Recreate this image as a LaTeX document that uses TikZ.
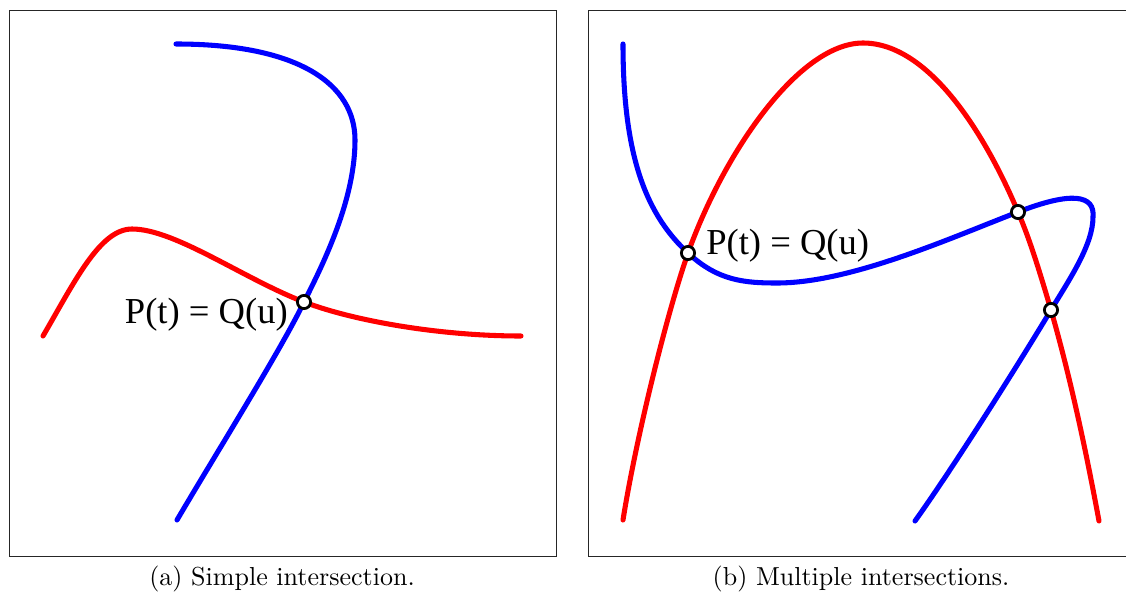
\documentclass[tikz,border=0pt]{standalone}
\usepackage{fontspec}
\newfontfamily\labelfont{Liberation Serif}
\newfontfamily\capfont{lmroman10-regular.otf}
\usepackage{tikz}
\usetikzlibrary{positioning}

\begin{document}
\begin{tikzpicture}[x=0.025cm, y=-0.025cm,
    curve/.style={line width=3.6pt, line cap=round},
    frame/.style={line width=0.7pt, black!85},
    hit/.style={circle, draw=black, fill=white, line width=2pt,
      inner sep=0pt, minimum size=0.33cm},
    eqlabel/.style={font=\labelfont\fontsize{26}{30}\selectfont, inner sep=0pt},
    subcap/.style={font=\capfont\fontsize{18.5}{22}\selectfont, anchor=base}]
  \useasboundingbox (0,0) rectangle (1126,598);
  \clip (0,0) rectangle (1126,598);

  % Frames
  \draw[frame] (9,10) rectangle (556,556);
  \draw[frame] (588,10) rectangle (1135,556);

  % === (a) one intersection ===
  \draw[curve, blue] (176,44) .. controls (300,44) and (355,85) .. (355,140)
    .. controls (355,195) and (329,253) .. (304,302)
    .. controls (282,348) and (217,452) .. (177,520);
  \draw[curve, red] (43,336) .. controls (75,281) and (100,229) .. (132,229)
    .. controls (175,229) and (244,279) .. (304,302)
    .. controls (354,321) and (440,336) .. (521,336);
  \node[hit] (pa) at (304,302) {};
  \node[eqlabel, anchor=base east] (la) at (288,323.5) {P(t) = Q(u)};

  % === (b) three intersections ===
  \draw[curve, blue] (623,44) .. controls (623,160) and (648,216) .. (688,253)
    .. controls (718,281) and (745,283) .. (777,283)
    .. controls (850,283) and (948,239) .. (1018,212)
    .. controls (1072,191) and (1095,195) .. (1093,217)
    .. controls (1093,245) and (1069,280) .. (1051,310)
    .. controls (1021,360) and (955,465) .. (915,521);
  \draw[curve, red] (623,520) .. controls (636,438) and (667,313) .. (688,253)
    .. controls (725,150) and (800,43) .. (863,43)
    .. controls (930,43) and (986.5,137) .. (1018,212)
    .. controls (1031,242) and (1042,280) .. (1051,310)
    .. controls (1071,380) and (1086,451) .. (1099,521);
  \node[hit] (pb1) at (688,253) {};
  \node[hit] (pb2) at (1018,212) {};
  \node[hit] (pb3) at (1051,310) {};
  \node[eqlabel, anchor=base west] (lb) at (706,254) {P(t) = Q(u)};

  % Captions
  \node[subcap] (capa) at (282,585) {(a) Simple intersection.};
  \node[subcap] (capb) at (861,585) {(b) Multiple intersections.};
\end{tikzpicture}
\end{document}
